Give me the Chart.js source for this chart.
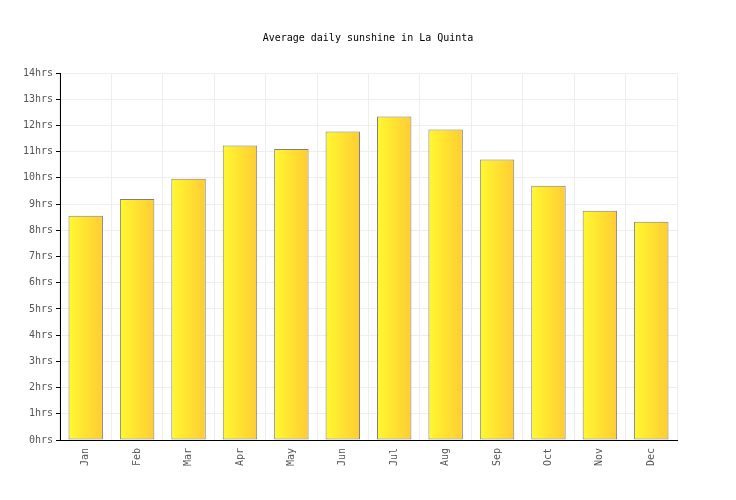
<!DOCTYPE html>
<html>
<head>
<meta charset="utf-8">
<script src="https://cdn.jsdelivr.net/npm/chart.js@4"></script>
<style>
  html, body { margin: 0; padding: 0; background: #fff; }
  #wrap { width: 736px; height: 500px; position: relative; }
</style>
</head>
<body>
<div id="wrap"><canvas id="sunChart"></canvas></div>
<script>
// Values
const months = ['Jan', 'Feb', 'Mar', 'Apr', 'May', 'Jun', 'Jul', 'Aug', 'Sep', 'Oct', 'Nov', 'Dec'];
const sunshineHours = [8.55, 9.19, 9.97, 11.23, 11.1, 11.77, 12.34, 11.84, 10.7, 9.7, 8.75, 8.33];
const yTicks = [0, 1, 2, 3, 4, 5, 6, 7, 8, 9, 10, 11, 12, 13, 14];

const monoFont = "'DejaVu Sans Mono', 'Liberation Mono', monospace";
const barShare = 0.67;

// horizontal yellow -> orange gradient across each bar
function barGradient(ctx) {
    const chart = ctx.chart;
    const xs = chart.scales.x;
    if (!xs || !chart.chartArea) return '#ffe030';
    const cx = xs.getPixelForValue(ctx.dataIndex);
    const half = (xs.width / months.length) * barShare / 2;
    const g = chart.ctx.createLinearGradient(cx - half, 0, cx + half, 0);
    g.addColorStop(0, '#fff830');
    g.addColorStop(1, '#ffcc33');
    return g;
}

const ctxSun = document.getElementById('sunChart').getContext('2d');
new Chart(ctxSun, {
    type: 'bar',
    data: {
        labels: months,
        datasets: [{
            data: sunshineHours,
            backgroundColor: barGradient,
            borderColor: '#7f7f7f',
            borderWidth: 1,
            borderSkipped: false,
            barPercentage: barShare,
            categoryPercentage: 1
        }]
    },
    options: {
        responsive: true, maintainAspectRatio: false, animation: false,
        layout: { padding: { top: 8, right: 0, bottom: 0, left: 0 } },
        plugins: {
            legend: { display: false },
            tooltip: { enabled: false },
            title: {
                display: true, text: 'Average daily sunshine in La Quinta',
                color: '#000', font: { family: monoFont, size: 10, weight: 'normal' },
                padding: { top: 24, bottom: 29 }
            }
        },
        scales: {
            x: {
                grid: { color: '#eeeeee', offset: true, drawTicks: false },
                border: { color: '#000', width: 1 },
                ticks: {
                    color: '#555', font: { family: monoFont, size: 10 },
                    maxRotation: 90, minRotation: 90, padding: 8
                },
                afterFit: (s) => { s.height = 60; }
            },
            y: {
                min: 0, max: 14,
                afterBuildTicks: (s) => { s.ticks = yTicks.map(v => ({ value: v })); },
                grid: { color: '#eeeeee', tickColor: '#000', tickLength: 4 },
                border: { color: '#000', width: 1 },
                ticks: {
                    color: '#555', font: { family: monoFont, size: 10 }, padding: 3,
                    callback: (v) => v + 'hrs'
                },
                afterFit: (s) => { s.width = 60; }
            },
            // empty right-hand axis only to reserve the right margin
            yRight: {
                position: 'right', min: 0, max: 14,
                grid: { display: false },
                border: { display: false },
                ticks: { display: false },
                afterFit: (s) => { s.width = 59; }
            }
        }
    }
});
</script>
</body>
</html>
